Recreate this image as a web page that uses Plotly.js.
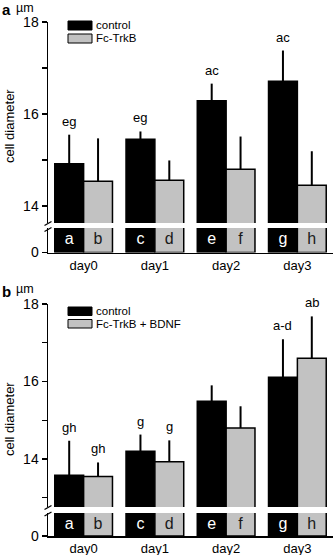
<!DOCTYPE html>
<html>
<head>
<meta charset="utf-8">
<script src="https://cdn.plot.ly/plotly-3.0.1.min.js"></script>
<style>html,body{margin:0;padding:0;background:#fff;}#chart{width:334px;height:555px;}</style>
</head>
<body>
<div id="chart"></div>
<script>
// ---------- data ----------
var days = ['day0', 'day1', 'day2', 'day3'];
var groupPos = [0, 1, 2, 3];

// panel a
var aSeriesNames = ['control', 'Fc-TrkB'];
var aControl = [14.92, 15.45, 16.29, 16.71];
var aControlErr = [0.63, 0.17, 0.37, 0.67];
var aFc = [14.54, 14.56, 14.80, 14.45];
var aFcErr = [0.93, 0.43, 0.71, 0.74];
var aControlSig = ['eg', 'eg', 'ac', 'ac'];
var aFcSig = ['', '', '', ''];

// panel b
var bSeriesNames = ['control', 'Fc-TrkB + BDNF'];
var bControl = [13.58, 14.20, 15.49, 16.11];
var bControlErr = [0.89, 0.43, 0.41, 0.98];
var bFc = [13.55, 13.93, 14.80, 16.60];
var bFcErr = [0.36, 0.55, 0.56, 1.08];
var bControlSig = ['gh', 'g', '', 'a-d'];
var bFcSig = ['gh', 'g', '', 'ab'];

// bar identification letters
var controlLetters = ['a', 'c', 'e', 'g'];
var fcLetters = ['b', 'd', 'f', 'h'];

// y tick labels
var aUpperTickVals = [14, 15, 16, 17, 18];
var aUpperTickText = ['14', '', '16', '', '18'];
var bUpperTickVals = [13, 14, 15, 16, 17, 18];
var bUpperTickText = ['', '14', '', '16', '', '18'];

// ---------- styling ----------
var FONT = 'Arial, "Liberation Sans", sans-serif';
var BLACK = '#000000';
var GRAY = '#c2c2c2';
var BW = 0.405; // bar width in x units
var H = 555, L = 48, PW = 285;
function px2x(p) { return (p - L) / PW; }
function py2y(p) { return 1 - p / H; }

function zeros(n) { var z = []; for (var i = 0; i < n; i++) z.push(0); return z; }

function barTrace(vals, errs, color, offset, xa, ya, withErr, name) {
  return {
    type: 'bar', x: groupPos, y: vals, width: BW, offset: offset,
    xaxis: xa, yaxis: ya, name: name, showlegend: false,
    marker: { color: color, line: { color: BLACK, width: 1.5 } },
    error_y: withErr ? { type: 'data', symmetric: false, array: errs, arrayminus: zeros(vals.length),
      width: 0, thickness: 2, color: BLACK } : { visible: false },
    hoverinfo: 'skip'
  };
}
function letterTrace(letters, shift, color, xa, ya) {
  return {
    type: 'scatter', mode: 'text', x: groupPos.map(function (g) { return g + shift; }),
    y: letters.map(function () { return 0.5; }), text: letters, xaxis: xa, yaxis: ya,
    textfont: { family: FONT, size: 16, color: color }, showlegend: false, hoverinfo: 'skip',
    cliponaxis: false
  };
}

var traces = [
  // panel a upper
  barTrace(aControl, aControlErr, BLACK, -BW, 'x', 'y', true, aSeriesNames[0]),
  barTrace(aFc, aFcErr, GRAY, 0, 'x', 'y', true, aSeriesNames[1]),
  // panel a lower (broken axis part)
  barTrace(aControl, aControlErr, BLACK, -BW, 'x', 'y2', false, aSeriesNames[0]),
  barTrace(aFc, aFcErr, GRAY, 0, 'x', 'y2', false, aSeriesNames[1]),
  letterTrace(controlLetters, -BW / 2, '#ffffff', 'x', 'y2'),
  letterTrace(fcLetters, BW / 2, '#1a1a1a', 'x', 'y2'),
  // panel b upper
  barTrace(bControl, bControlErr, BLACK, -BW, 'x2', 'y3', true, bSeriesNames[0]),
  barTrace(bFc, bFcErr, GRAY, 0, 'x2', 'y3', true, bSeriesNames[1]),
  // panel b lower
  barTrace(bControl, bControlErr, BLACK, -BW, 'x2', 'y4', false, bSeriesNames[0]),
  barTrace(bFc, bFcErr, GRAY, 0, 'x2', 'y4', false, bSeriesNames[1]),
  letterTrace(controlLetters, -BW / 2, '#ffffff', 'x2', 'y4'),
  letterTrace(fcLetters, BW / 2, '#1a1a1a', 'x2', 'y4')
];

// significance annotations
var annotations = [];
function sigAnn(sig, vals, errs, shift, xa, ya) {
  for (var i = 0; i < sig.length; i++) {
    if (!sig[i]) continue;
    annotations.push({ xref: xa, yref: ya, x: groupPos[i] + shift, y: vals[i] + errs[i],
      text: sig[i], showarrow: false, yanchor: 'bottom', yshift: 4,
      font: { family: FONT, size: 13, color: BLACK } });
  }
}
sigAnn(aControlSig, aControl, aControlErr, -BW / 2, 'x', 'y');
sigAnn(aFcSig, aFc, aFcErr, BW / 2, 'x', 'y');
sigAnn(bControlSig, bControl, bControlErr, -BW / 2, 'x2', 'y3');
sigAnn(bFcSig, bFc, bFcErr, BW / 2, 'x2', 'y3');

function paperText(px, py, text, size, bold, angle, xanchor, yanchor) {
  annotations.push({ xref: 'paper', yref: 'paper', x: px2x(px), y: py2y(py),
    text: bold ? '<b>' + text + '</b>' : text, showarrow: false, borderpad: 0,
    xanchor: xanchor || 'center', yanchor: yanchor || 'middle', textangle: angle || 0,
    font: { family: FONT, size: size, color: BLACK } });
}
// panel letters, units, y titles
paperText(1, 0, 'a', 15, true, 0, 'left', 'top');
paperText(15, 0, 'µm', 12.5, false, 0, 'left', 'top');
paperText(1, 282, 'b', 15, true, 0, 'left', 'top');
paperText(15, 281, 'µm', 12.5, false, 0, 'left', 'top');
paperText(9, 126, 'cell diameter', 13, false, -90);
paperText(9, 419, 'cell diameter', 13, false, -90);

// legends (manual, with rectangles)
var shapes = [];
function legendItem(y0, y1, color, label) {
  shapes.push({ type: 'rect', xref: 'paper', yref: 'paper', x0: px2x(68), x1: px2x(92),
    y0: py2y(y1), y1: py2y(y0), fillcolor: color, line: { color: BLACK, width: 1 } });
  paperText(95, (y0 + y1) / 2, label, 11.5, false, 0, 'left');
}
legendItem(21, 30, BLACK, aSeriesNames[0]);
legendItem(34, 43, GRAY, aSeriesNames[1]);
legendItem(307, 315.5, BLACK, bSeriesNames[0]);
legendItem(319.5, 328, GRAY, bSeriesNames[1]);

// axis-break marks
function breakMark(ya, yb) {
  shapes.push({ type: 'line', xref: 'paper', yref: 'paper', x0: px2x(44.5), x1: px2x(51.5),
    y0: py2y(ya), y1: py2y(ya - 4), line: { color: BLACK, width: 1.3 } });
  shapes.push({ type: 'line', xref: 'paper', yref: 'paper', x0: px2x(44.5), x1: px2x(51.5),
    y0: py2y(yb), y1: py2y(yb - 4), line: { color: BLACK, width: 1.3 } });
}
breakMark(225.5, 231.5);
breakMark(509.5, 516);

var yCommon = { showline: true, linecolor: BLACK, linewidth: 1.5, ticks: 'outside', ticklen: 5,
  tickwidth: 1.3, tickcolor: BLACK, showgrid: false, zeroline: false, fixedrange: true,
  tickfont: { family: FONT, size: 14, color: BLACK } };
function ax(extra) { var o = {}; for (var k in yCommon) o[k] = yCommon[k]; for (var k2 in extra) o[k2] = extra[k2]; return o; }

var xCommon = { range: [-0.5, 3.5], showline: true, linecolor: BLACK, linewidth: 1.5, ticks: '',
  tickvals: groupPos, ticktext: days, showgrid: false, zeroline: false, fixedrange: true,
  tickfont: { family: FONT, size: 13, color: BLACK } };
function xa(extra) { var o = {}; for (var k in xCommon) o[k] = xCommon[k]; for (var k2 in extra) o[k2] = extra[k2]; return o; }

var layout = {
  width: 334, height: 555,
  margin: { l: L, r: 334 - L - PW, t: 0, b: 0, pad: 0 },
  paper_bgcolor: '#ffffff', plot_bgcolor: '#ffffff',
  showlegend: false, barmode: 'overlay',
  xaxis: xa({ anchor: 'y2', domain: [0, 1] }),
  xaxis2: xa({ anchor: 'y4', domain: [0, 1] }),
  yaxis: ax({ anchor: 'x', domain: [py2y(223), py2y(22)], range: [13.63, 18],
    tickvals: aUpperTickVals, ticktext: aUpperTickText }),
  yaxis2: ax({ anchor: 'x', domain: [py2y(252.5), py2y(228)], range: [0, 1],
    tickvals: [0], ticktext: ['0'] }),
  yaxis3: ax({ anchor: 'x2', domain: [py2y(507), py2y(304)], range: [12.76, 18],
    tickvals: bUpperTickVals, ticktext: bUpperTickText }),
  yaxis4: ax({ anchor: 'x2', domain: [py2y(536), py2y(513)], range: [0, 1],
    tickvals: [0], ticktext: ['0'] }),
  annotations: annotations,
  shapes: shapes
};

Plotly.newPlot('chart', traces, layout, { displayModeBar: false, staticPlot: true });
</script>
</body>
</html>
